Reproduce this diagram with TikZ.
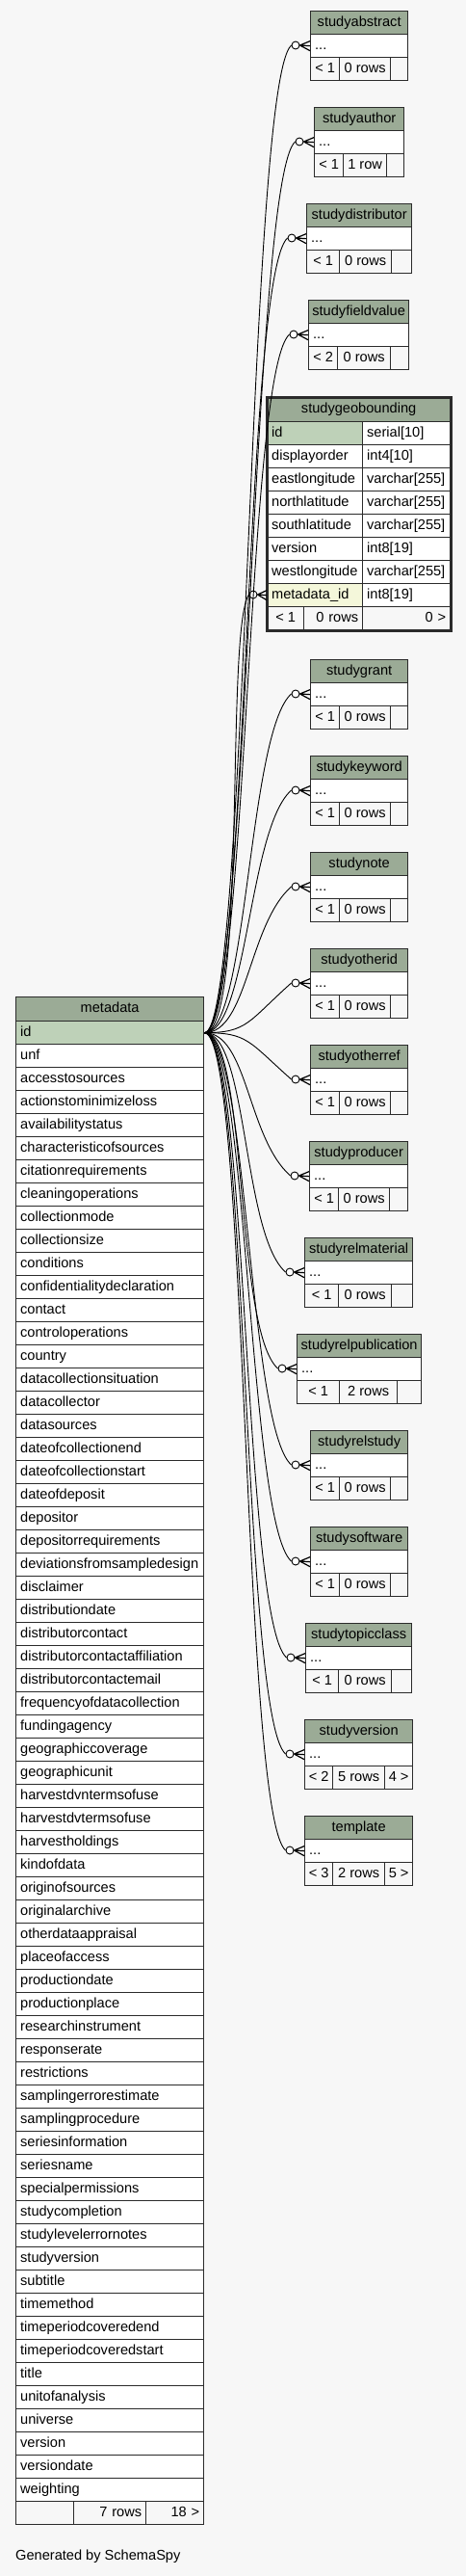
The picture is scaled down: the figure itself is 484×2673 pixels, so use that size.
\documentclass[tikz,border=0pt]{standalone}
\usepackage{fontspec}
\setmainfont{Liberation Sans}

\definecolor{headc}{HTML}{9BAB96}
\definecolor{pkc}{HTML}{BED1B8}
\definecolor{fkc}{HTML}{F4F7DA}
\definecolor{bgc}{HTML}{F7F7F7}
\definecolor{linec}{HTML}{2B2B2B}

% small child table: name, left, top, col1, col2, right, footer texts
\newcommand\kidtable[9]{%
  \pgfmathsetmacro\kwa{#6-#2}%
  \pgfmathsetmacro\kwb{#6-#2-9}%
  \pgfmathsetmacro\kwc{#4-#2}%
  \pgfmathsetmacro\kwd{#5-#4}%
  \pgfmathsetmacro\kwe{#6-#5}%
  \pgfmathsetmacro\kdy{ifthenelse(#3+36<1071,40,-40)}%
  \node[headcell,minimum width=\kwa pt] (#1-head) at (#2,#3) {#1};
  \node[rowcell,text width=\kwb pt] (#1-dots) at (#2,#3+24) {...};
  \node[footcell,minimum width=\kwc pt] (#1-fl) at (#2,#3+48) {#7};
  \node[footcell,minimum width=\kwd pt] (#1-fm) at (#4,#3+48) {#8};
  \node[footcell,minimum width=\kwe pt] (#1-fr) at (#5,#3+48) {#9};
  \node[zcirc] (#1-o) at (#2-15,#3+36) {};
  \draw[link] (md-id.east) .. controls +(45,0) and +(-45,\kdy) .. (#1-o.west);
  \draw[crow] (#1-o.east) -- ([yshift=5pt]#1-dots.west)
              (#1-o.east) -- (#1-dots.west)
              (#1-o.east) -- ([yshift=-5pt]#1-dots.west);
}

\begin{document}
\begin{tikzpicture}[x=1pt,y=-1pt,font=\fontsize{14.6}{17}\selectfont,
  cell/.style={draw=linec,line width=1.3pt,anchor=north west,inner xsep=4.5pt,inner ysep=0pt,
    minimum height=24pt,text height=10.5pt,text depth=3pt},
  headcell/.style={cell,fill=headc,align=center,inner xsep=2pt},
  rowcell/.style={cell,fill=white,align=left},
  footcell/.style={cell,fill=bgc,align=center,inner xsep=3pt},
  rfootcell/.style={cell,fill=bgc,align=right},
  zcirc/.style={circle,draw=black,fill=white,line width=0.9pt,minimum size=8pt,inner sep=0pt},
  link/.style={line width=0.9pt},
  crow/.style={line width=1.2pt}]
 \useasboundingbox (0,0) rectangle (484,2673);
 \fill[bgc] (0,0) rectangle (484,2673);

 % metadata
 \node[headcell,minimum width=195pt,minimum height=25pt] (md-head) at (16,1034) {metadata};
 \node[rowcell,fill=pkc,text width=186pt] (md-id) at (16,1059) {id};
 \foreach \f [count=\i] in {unf,accesstosources,actionstominimizeloss,availabilitystatus,
   characteristicofsources,citationrequirements,cleaningoperations,collectionmode,collectionsize,
   conditions,confidentialitydeclaration,contact,controloperations,country,datacollectionsituation,
   datacollector,datasources,dateofcollectionend,dateofcollectionstart,dateofdeposit,depositor,
   depositorrequirements,deviationsfromsampledesign,disclaimer,distributiondate,distributorcontact,
   distributorcontactaffiliation,distributorcontactemail,frequencyofdatacollection,fundingagency,
   geographiccoverage,geographicunit,harvestdvntermsofuse,harvestdvtermsofuse,harvestholdings,
   kindofdata,originofsources,originalarchive,otherdataappraisal,placeofaccess,productiondate,
   productionplace,researchinstrument,responserate,restrictions,samplingerrorestimate,
   samplingprocedure,seriesinformation,seriesname,specialpermissions,studycompletion,
   studylevelerrornotes,studyversion,subtitle,timemethod,timeperiodcoveredend,
   timeperiodcoveredstart,title,unitofanalysis,universe,version,versiondate,weighting}
   \node[rowcell,text width=186pt] (md-\i) at (16,{1059+24*\i}) {\f};
 \node[footcell,minimum width=60pt] (md-fl) at (16,2595) {};
 \node[rfootcell,text width=66pt] (md-fm) at (76,2595) {7 rows};
 \node[rfootcell,text width=51pt] (md-fr) at (151,2595) {18 >};
 \node[anchor=west,inner sep=0pt] (credit) at (16,2653) {Generated by SchemaSpy};

 % studygeobounding
 \node[headcell,minimum width=190pt,minimum height=25pt] (geo-head) at (277,412) {studygeobounding};
 \foreach \c/\t/\fc [count=\i from 0] in {id/serial[10]/pkc,displayorder/int4[10]/white,
   eastlongitude/varchar[255]/white,northlatitude/varchar[255]/white,
   southlatitude/varchar[255]/white,version/int8[19]/white,
   westlongitude/varchar[255]/white,metadata\_id/int8[19]/fkc}{
   \node[rowcell,fill=\fc,text width=90pt] (geo-c\i) at (277,{437+24*\i}) {\c};
   \node[rowcell,text width=82pt] (geo-t\i) at (376,{437+24*\i}) {\t};
 }
 \node[footcell,minimum width=38pt] (geo-fl) at (277,629) {< 1};
 \node[rfootcell,text width=52pt] (geo-fm) at (315,629) {0 rows};
 \node[rfootcell,text width=82pt] (geo-fr) at (376,629) {0 >};
 \draw[linec,line width=3pt] (geo-head.north west) rectangle (geo-fr.south east);
 \node[zcirc] (geo-o) at (263,617) {};
 \draw[link] (md-id.east) .. controls +(45,0) and +(-25,35) .. (geo-o.west);
 \draw[crow] (geo-o.east) -- ([yshift=5pt]geo-c7.west)
             (geo-o.east) -- (geo-c7.west)
             (geo-o.east) -- ([yshift=-5pt]geo-c7.west);

 % child tables
 \kidtable{studyabstract}{322}{11}{352}{405}{423}{< 1}{0 rows}{}
 \kidtable{studyauthor}{326}{111}{356}{401}{419}{< 1}{1 row}{}
 \kidtable{studydistributor}{318}{211}{352}{406}{427}{< 1}{0 rows}{}
 \kidtable{studyfieldvalue}{320}{311}{350}{405}{424}{< 2}{0 rows}{}
 \kidtable{studygrant}{322}{684}{352}{405}{423}{< 1}{0 rows}{}
 \kidtable{studykeyword}{322}{784}{352}{405}{423}{< 1}{0 rows}{}
 \kidtable{studynote}{322}{884}{352}{405}{423}{< 1}{0 rows}{}
 \kidtable{studyotherid}{322}{984}{352}{405}{423}{< 1}{0 rows}{}
 \kidtable{studyotherref}{322}{1084}{352}{405}{423}{< 1}{0 rows}{}
 \kidtable{studyproducer}{321}{1184}{351}{404}{423}{< 1}{0 rows}{}
 \kidtable{studyrelmaterial}{316}{1284}{351}{406}{428}{< 1}{0 rows}{}
 \kidtable{studyrelpublication}{308}{1384}{352}{412}{437}{< 1}{2 rows}{}
 \kidtable{studyrelstudy}{322}{1484}{352}{405}{423}{< 1}{0 rows}{}
 \kidtable{studysoftware}{322}{1584}{352}{405}{423}{< 1}{0 rows}{}
 \kidtable{studytopicclass}{317}{1684}{351}{406}{427}{< 1}{0 rows}{}
 \kidtable{studyversion}{316}{1784}{345}{399}{428}{< 2}{5 rows}{4 >}
 \kidtable{template}{316}{1884}{345}{399}{428}{< 3}{2 rows}{5 >}
\end{tikzpicture}
\end{document}
